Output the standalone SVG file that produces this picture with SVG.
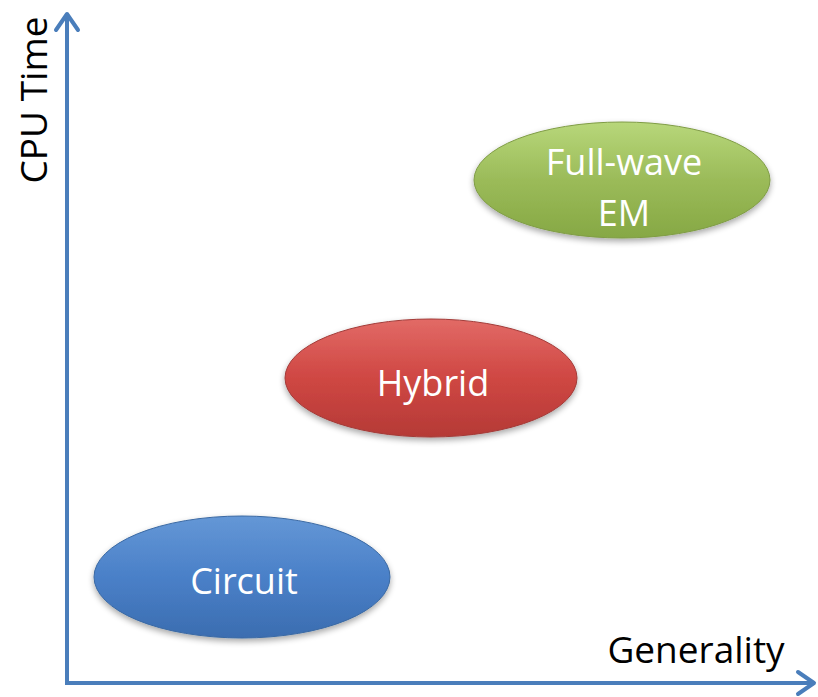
<svg xmlns="http://www.w3.org/2000/svg" width="818" height="697" viewBox="0 0 818 697">
<style>
.lbl{font-family:"Open Sans","Liberation Sans",sans-serif;font-size:36px;fill:#ffffff;text-anchor:middle}
.ax{font-family:"Open Sans","Liberation Sans",sans-serif;font-size:37px;fill:#000000}
.axis{stroke:#4a7ebb;stroke-width:4;fill:none}
.head{stroke:#4a7ebb;stroke-width:4;fill:none;stroke-linecap:round;stroke-linejoin:round}
</style>
<defs>
<linearGradient id="gG" x1="0" y1="0" x2="0" y2="1">
<stop offset="0" stop-color="#b8d77a"/><stop offset="0.5" stop-color="#9bbb59"/><stop offset="1" stop-color="#86a844"/>
</linearGradient>
<linearGradient id="gR" x1="0" y1="0" x2="0" y2="1">
<stop offset="0" stop-color="#e26a66"/><stop offset="0.5" stop-color="#cf4743"/><stop offset="1" stop-color="#b53a36"/>
</linearGradient>
<linearGradient id="gB" x1="0" y1="0" x2="0" y2="1">
<stop offset="0" stop-color="#6497d6"/><stop offset="0.5" stop-color="#4a80c8"/><stop offset="1" stop-color="#3b6db0"/>
</linearGradient>
<filter id="sh" x="-10%" y="-20%" width="120%" height="150%">
<feGaussianBlur in="SourceAlpha" stdDeviation="3"/>
<feOffset dy="3"/>
<feComponentTransfer><feFuncA type="linear" slope="0.35"/></feComponentTransfer>
<feMerge><feMergeNode/><feMergeNode in="SourceGraphic"/></feMerge>
</filter>
</defs>
<rect width="818" height="697" fill="#ffffff"/>
<g id="connectors">
<line class="axis" x1="67" y1="685" x2="67" y2="14"/>
<polyline class="head" points="56,30 67,14 78,30"/>
<line class="axis" x1="65" y1="683" x2="814" y2="683"/>
<polyline class="head" points="798,672 814,683 798,694"/>
</g>
<g id="axis-y-label"><text class="ax" transform="translate(47,100) rotate(-90)" text-anchor="middle">CPU Time</text></g>
<g id="axis-x-label"><text class="ax" x="696" y="663" text-anchor="middle">Generality</text></g>
<g id="fullwave">
<ellipse cx="622" cy="180" rx="148" ry="58" fill="url(#gG)" stroke="#7f9c45" stroke-width="1" filter="url(#sh)"/>
<text class="lbl" x="624" y="175">Full-wave</text>
<text class="lbl" x="624" y="226">EM</text>
</g>
<g id="hybrid">
<ellipse cx="431" cy="378" rx="146" ry="59" fill="url(#gR)" stroke="#a23a37" stroke-width="1" filter="url(#sh)"/>
<text class="lbl" x="433" y="396">Hybrid</text>
</g>
<g id="circuit">
<ellipse cx="242" cy="577" rx="148" ry="61" fill="url(#gB)" stroke="#3a69a3" stroke-width="1" filter="url(#sh)"/>
<text class="lbl" x="244" y="594">Circuit</text>
</g>
</svg>
